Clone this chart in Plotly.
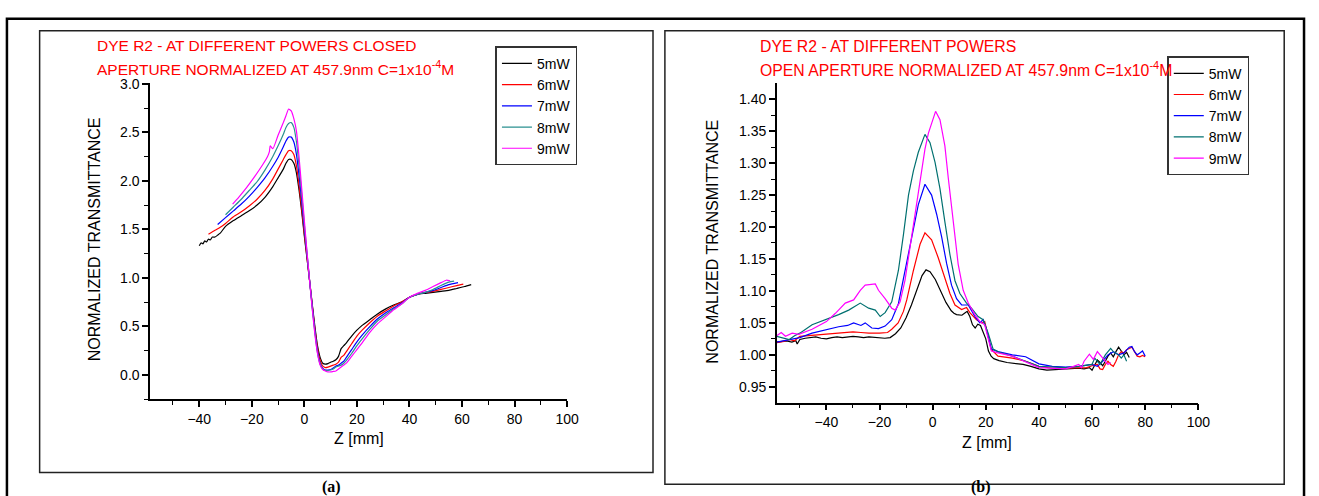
import plotly.graph_objects as go

W, H = 1319, 496
FONT = "Liberation Sans, Arial, sans-serif"

labels = ["5mW", "6mW", "7mW", "8mW", "9mW"]
colors = ["#000000", "#FF0000", "#0000FF", "#2A9090", "#FF00FF"]
colors_open = ["#000000", "#FF0000", "#0000FF", "#007070", "#FF00FF"]

# ---------------- (a) closed aperture ----------------
z_closed_5 = [-40, -39.3, -38.6, -37.9, -37.2, -36.5, -35.8, -35, -34, -33, -32, -30, -27, -24, -21, -18, -15, -12, -10, -8, -7, -6, -5, -4, -3, -2, -1, 0, 1, 2, 3, 4, 5, 6, 7, 8, 9, 10, 11, 12, 13, 14, 15, 16, 18, 20, 22, 25, 28, 31, 34, 37, 40, 43, 46, 49, 52, 55, 58, 61, 63.5]
t_closed_5 = [1.33, 1.36, 1.35, 1.38, 1.37, 1.40, 1.39, 1.42, 1.42, 1.44, 1.46, 1.53, 1.59, 1.64, 1.69, 1.75, 1.83, 1.94, 2.03, 2.12, 2.18, 2.22, 2.22, 2.18, 2.08, 1.90, 1.68, 1.43, 1.20, 0.97, 0.73, 0.50, 0.30, 0.18, 0.12, 0.11, 0.115, 0.13, 0.14, 0.155, 0.19, 0.27, 0.30, 0.33, 0.40, 0.46, 0.51, 0.57, 0.63, 0.68, 0.72, 0.75, 0.80, 0.83, 0.84, 0.85, 0.86, 0.87, 0.89, 0.91, 0.93]

z_closed_6 = [-36.5, -34, -32, -30, -27, -24, -21, -18, -15, -12, -10, -8, -7, -6, -5, -4, -3, -2, -1, 0, 1, 2, 3, 4, 5, 6, 7, 8, 9, 10, 11, 12, 13, 14, 15, 16, 18, 20, 22, 25, 28, 31, 34, 37, 40, 43, 46, 49, 52, 55, 58, 60.5]
t_closed_6 = [1.45, 1.49, 1.52, 1.56, 1.63, 1.68, 1.74, 1.81, 1.90, 2.02, 2.12, 2.22, 2.27, 2.31, 2.31, 2.27, 2.15, 1.95, 1.71, 1.45, 1.21, 0.97, 0.72, 0.48, 0.28, 0.15, 0.09, 0.075, 0.08, 0.09, 0.10, 0.11, 0.13, 0.18, 0.20, 0.24, 0.32, 0.40, 0.46, 0.54, 0.61, 0.66, 0.71, 0.75, 0.80, 0.83, 0.85, 0.86, 0.88, 0.90, 0.92, 0.935]

z_closed_7 = [-33, -30, -27, -24, -21, -18, -15, -12, -10, -8, -7, -6, -5, -4, -3, -2, -1, 0, 1, 2, 3, 4, 5, 6, 7, 8, 9, 10, 11, 12, 13, 14, 15, 16, 18, 20, 22, 25, 28, 31, 34, 37, 40, 43, 46, 49, 52, 55, 58.5]
t_closed_7 = [1.55, 1.62, 1.69, 1.76, 1.84, 1.93, 2.03, 2.15, 2.24, 2.35, 2.41, 2.45, 2.45, 2.40, 2.27, 2.05, 1.79, 1.50, 1.24, 0.97, 0.71, 0.46, 0.25, 0.12, 0.065, 0.05, 0.05, 0.055, 0.07, 0.09, 0.10, 0.12, 0.14, 0.18, 0.26, 0.34, 0.41, 0.50, 0.58, 0.64, 0.69, 0.74, 0.80, 0.83, 0.85, 0.87, 0.90, 0.93, 0.95]

z_closed_8 = [-30, -27, -24, -21, -18, -15, -12, -10, -8, -7, -6, -5, -4, -3, -2, -1, 0, 1, 2, 3, 4, 5, 6, 7, 8, 9, 10, 11, 12, 13, 14, 15, 16, 18, 20, 22, 25, 28, 31, 34, 37, 40, 43, 46, 49, 52, 55, 57]
t_closed_8 = [1.65, 1.73, 1.81, 1.90, 1.99, 2.11, 2.25, 2.36, 2.48, 2.55, 2.59, 2.60, 2.55, 2.40, 2.15, 1.86, 1.55, 1.26, 0.97, 0.69, 0.44, 0.23, 0.11, 0.06, 0.045, 0.045, 0.05, 0.06, 0.08, 0.09, 0.10, 0.12, 0.15, 0.22, 0.30, 0.37, 0.47, 0.56, 0.62, 0.68, 0.73, 0.80, 0.83, 0.85, 0.88, 0.92, 0.955, 0.965]

z_closed_9 = [-27.3, -25, -22, -19, -16, -14, -13.3, -13, -12, -10, -8, -7, -6, -5, -4, -3, -2, -1, 0, 1, 2, 3, 4, 5, 6, 7, 8, 9, 10, 11, 12, 13, 14, 15, 16, 18, 20, 22, 25, 28, 31, 34, 37, 40, 43, 46, 49, 52, 54, 55.5]
t_closed_9 = [1.76, 1.83, 1.93, 2.04, 2.16, 2.25, 2.30, 2.36, 2.33, 2.47, 2.60, 2.67, 2.74, 2.72, 2.64, 2.51, 2.24, 1.92, 1.59, 1.27, 0.97, 0.68, 0.42, 0.22, 0.10, 0.055, 0.04, 0.03, 0.03, 0.035, 0.04, 0.06, 0.08, 0.10, 0.12, 0.19, 0.26, 0.33, 0.44, 0.53, 0.60, 0.67, 0.73, 0.80, 0.84, 0.87, 0.91, 0.95, 0.975, 0.97]

# ---------------- (b) open aperture ----------------
z_open_5 = [-58.7, -57, -55, -53, -51.5, -51, -50, -48, -46, -44, -42, -40, -38, -36, -34, -32, -30, -28, -26, -24, -22, -20, -18, -16, -14, -12, -10, -8, -6, -4, -2.5, -1, 1, 3, 5, 7, 8, 9, 10, 11, 12, 13, 14, 15, 16, 17, 18, 19, 20, 21, 22, 23, 25, 28, 31, 34, 37, 40, 43, 46, 49, 52, 55, 57, 59, 60, 61, 62, 63, 64, 65, 66, 67, 68, 69, 70, 71, 72, 73, 74]
t_open_5 = [1.020, 1.021, 1.022, 1.020, 1.022, 1.017, 1.024, 1.026, 1.027, 1.028, 1.026, 1.025, 1.027, 1.028, 1.027, 1.028, 1.029, 1.028, 1.027, 1.028, 1.027, 1.027, 1.026, 1.027, 1.033, 1.042, 1.058, 1.078, 1.100, 1.124, 1.133, 1.130, 1.118, 1.100, 1.082, 1.069, 1.065, 1.063, 1.062, 1.062, 1.065, 1.068, 1.060, 1.047, 1.042, 1.048, 1.046, 1.036, 1.025, 1.006, 0.998, 0.994, 0.991, 0.988, 0.987, 0.985, 0.982, 0.978, 0.976, 0.977, 0.977, 0.978, 0.979, 0.978, 0.980, 0.976, 0.985, 0.992, 0.988, 0.983, 0.990, 0.998, 1.003, 0.997, 1.005, 1.012, 1.006, 1.000, 1.004, 0.996]

z_open_6 = [-58.7, -56, -54, -52, -50, -47, -44, -40, -37, -34, -30, -27, -24, -20, -17, -15.4, -13, -11, -9.75, -7.25, -4.75, -2.9, -0.4, 2.1, 4.6, 6.5, 8.4, 10.9, 12.75, 14, 16.5, 18.4, 19.6, 22, 24.6, 30, 35, 40, 45, 50, 55, 58, 60, 62, 63, 64, 65, 66, 67, 68, 69, 70, 71, 72, 73, 74, 75, 76, 77, 78, 79, 80]
t_open_6 = [1.019, 1.021, 1.024, 1.022, 1.029, 1.030, 1.031, 1.033, 1.033, 1.034, 1.036, 1.035, 1.034, 1.034, 1.035, 1.040, 1.050, 1.068, 1.086, 1.132, 1.173, 1.191, 1.180, 1.152, 1.122, 1.096, 1.078, 1.071, 1.074, 1.066, 1.055, 1.050, 1.052, 1.009, 0.998, 0.995, 0.990, 0.982, 0.979, 0.979, 0.980, 0.980, 0.983, 0.985, 0.978, 0.977, 0.985, 0.990, 0.985, 0.982, 0.990, 1.000, 1.005, 1.003, 1.008, 1.010, 1.012, 1.005, 0.998, 0.997, 0.999, 0.997]

z_open_7 = [-58.7, -56, -53, -50, -45.4, -40, -35.4, -32, -29.75, -27, -25.4, -22.9, -20.4, -17.9, -15.4, -12.9, -10.4, -7.9, -5.4, -2.9, -0.4, 1.5, 3.4, 5.25, 7.1, 9, 10.9, 13.4, 15.9, 17.75, 19, 20.25, 22.1, 24.6, 30, 35, 40, 45, 50, 55, 60, 62, 64, 66, 68, 70, 72, 74, 75, 76, 77, 78, 79, 80]
t_open_7 = [1.020, 1.022, 1.024, 1.027, 1.034, 1.040, 1.044, 1.046, 1.050, 1.046, 1.050, 1.042, 1.041, 1.045, 1.055, 1.080, 1.132, 1.188, 1.235, 1.267, 1.250, 1.220, 1.184, 1.143, 1.109, 1.088, 1.078, 1.078, 1.060, 1.050, 1.055, 1.040, 1.009, 1.005, 1.000, 0.997, 0.986, 0.982, 0.981, 0.982, 0.985, 0.982, 0.990, 1.000, 1.005, 1.000, 1.003, 1.012, 1.013, 1.005, 1.000, 1.003, 1.006, 0.998]

z_open_8 = [-58.7, -56, -54, -52, -50, -45.4, -40, -35.4, -31.6, -27.25, -24.1, -21.6, -19.75, -17.9, -15.4, -12.9, -11, -9.1, -7.25, -5.4, -2.9, -1, 0.9, 2.75, 4.6, 6.5, 8.4, 10.25, 12.75, 14.6, 17.1, 19, 20.9, 22.75, 25, 30, 40, 50, 55, 60, 61, 62, 63, 65, 67, 68, 70, 71, 72, 73]
t_open_8 = [1.029, 1.026, 1.024, 1.030, 1.034, 1.047, 1.055, 1.063, 1.070, 1.081, 1.073, 1.070, 1.060, 1.066, 1.083, 1.132, 1.188, 1.250, 1.288, 1.317, 1.345, 1.332, 1.301, 1.260, 1.208, 1.157, 1.116, 1.096, 1.081, 1.073, 1.060, 1.055, 1.034, 1.009, 1.004, 0.998, 0.982, 0.980, 0.982, 0.985, 0.995, 0.990, 0.985, 1.000, 1.010, 1.005, 1.000, 0.995, 1.000, 0.990]

z_open_9 = [-59, -57, -55.4, -52.9, -50.4, -45.4, -40, -36.6, -32.9, -29.75, -27.25, -25.4, -21.6, -20.4, -17.9, -15.4, -14.1, -12.25, -10.4, -8.5, -6.6, -4.75, -2.9, -1.6, 0.25, 1.1, 2.75, 4.6, 5.9, 7.75, 9.6, 11.5, 13.4, 15.9, 17.75, 19.6, 22.1, 24.6, 30, 40, 50, 53, 55, 56, 57, 59, 60.5, 62, 63, 64, 65, 66, 67]
t_open_9 = [1.029, 1.035, 1.029, 1.034, 1.032, 1.040, 1.052, 1.065, 1.081, 1.086, 1.101, 1.109, 1.111, 1.101, 1.088, 1.073, 1.070, 1.083, 1.117, 1.168, 1.219, 1.271, 1.322, 1.347, 1.373, 1.381, 1.368, 1.327, 1.276, 1.209, 1.142, 1.101, 1.081, 1.063, 1.052, 1.047, 1.006, 1.003, 0.998, 0.980, 0.978, 0.982, 0.985, 0.980, 0.990, 1.001, 0.993, 1.005, 1.000, 0.995, 0.990, 0.985, 0.988]

closed_z = [z_closed_5, z_closed_6, z_closed_7, z_closed_8, z_closed_9]
closed_t = [t_closed_5, t_closed_6, t_closed_7, t_closed_8, t_closed_9]
open_z = [z_open_5, z_open_6, z_open_7, z_open_8, z_open_9]
open_t = [t_open_5, t_open_6, t_open_7, t_open_8, t_open_9]

x_ticks = [-40, -20, 0, 20, 40, 60, 80, 100]


def px(x):
    return x / W


def py(y):
    return 1 - y / H


fig = go.Figure()
for i in range(5):
    fig.add_trace(go.Scatter(x=closed_z[i], y=closed_t[i], mode="lines", name=labels[i],
                             line=dict(color=colors[i], width=1.2, shape="spline", smoothing=0.5),
                             xaxis="x", yaxis="y", legend="legend"))
for i in range(5):
    fig.add_trace(go.Scatter(x=open_z[i], y=open_t[i], mode="lines", name=labels[i],
                             line=dict(color=colors_open[i], width=1.2),
                             xaxis="x2", yaxis="y2", legend="legend2"))

axis_common = dict(showline=True, linecolor="black", linewidth=1.5, ticks="outside",
                   ticklen=6, tickwidth=1.5, tickcolor="black", showgrid=False, zeroline=False,
                   tickfont=dict(family=FONT, size=14, color="black"))

fig.update_layout(
    width=W, height=H, margin=dict(l=0, r=0, t=0, b=0),
    paper_bgcolor="white", plot_bgcolor="white",
    font=dict(family=FONT, color="black"),
    xaxis=dict(domain=[px(151.5), px(572.3)], range=[-58.7, 100], tickvals=x_ticks,
               minor=dict(dtick=10, tick0=0, ticks="outside", ticklen=4, tickwidth=1.2, tickcolor="black"),
               anchor="y", **axis_common),
    yaxis=dict(domain=[py(397.7), py(76.7)], range=[-0.252, 3.003], dtick=0.5, tick0=0, tickformat=".1f",
               minor=dict(dtick=0.25, tick0=0, ticks="outside", ticklen=4, tickwidth=1.2, tickcolor="black"),
               anchor="x", **axis_common),
    xaxis2=dict(domain=[px(784), px(1209.3)], range=[-58.65, 100], tickvals=x_ticks,
                minor=dict(dtick=10, tick0=0, ticks="outside", ticklen=4, tickwidth=1.2, tickcolor="black"),
                anchor="y2", **axis_common),
    yaxis2=dict(domain=[py(401), py(76.7)], range=[0.9254, 1.4246], dtick=0.05, tick0=0.95, tickformat=".2f",
                minor=dict(dtick=0.025, tick0=0.95, ticks="outside", ticklen=4, tickwidth=1.2, tickcolor="black"),
                anchor="x2", **axis_common),
    legend=dict(x=px(500), y=py(39), xanchor="left", yanchor="top", bgcolor="white",
                bordercolor="#333333", borderwidth=1.5, font=dict(family=FONT, size=14),
                tracegroupgap=0, itemwidth=30),
    legend2=dict(x=px(1178), y=py(49), xanchor="left", yanchor="top", bgcolor="white",
                 bordercolor="#333333", borderwidth=1.5, font=dict(family=FONT, size=14),
                 tracegroupgap=0, itemwidth=30),
    showlegend=True,
)

shapes = [
    dict(type="rect", xref="paper", yref="paper", x0=px(7), x1=px(1316), y0=py(520), y1=py(11),
         line=dict(color="black", width=2.5), layer="below"),
    dict(type="rect", xref="paper", yref="paper", x0=px(40), x1=px(659), y0=py(472), y1=py(23),
         line=dict(color="#222222", width=1.5), layer="below"),
    dict(type="rect", xref="paper", yref="paper", x0=px(671), x1=px(1296), y0=py(484), y1=py(23),
         line=dict(color="#222222", width=1.5), layer="below"),
]
fig.update_layout(shapes=shapes)

red = dict(family=FONT, size=15.5, color="#FF0000")
red2 = dict(family=FONT, size=15.8, color="#FF0000")
lab = dict(family=FONT, size=16, color="black")
ann = [
    dict(text="DYE R2 - AT DIFFERENT POWERS CLOSED", x=px(96), y=py(38), xanchor="left", yanchor="middle", font=red),
    dict(text="APERTURE NORMALIZED AT 457.9nm C=1x10<sup>-4</sup>M", x=px(96), y=py(61), xanchor="left", yanchor="middle", font=red),
    dict(text="DYE R2 - AT DIFFERENT POWERS", x=px(765), y=py(39), xanchor="left", yanchor="middle", font=red2),
    dict(text="OPEN APERTURE NORMALIZED AT 457.9nm C=1x10<sup>-4</sup>M", x=px(765), y=py(62), xanchor="left", yanchor="middle", font=red2),
    dict(text="NORMALIZED TRANSMITTANCE", x=px(95), y=py(235), textangle=-90, xanchor="center", yanchor="middle", font=lab),
    dict(text="NORMALIZED TRANSMITTANCE", x=px(719), y=py(237), textangle=-90, xanchor="center", yanchor="middle", font=lab),
    dict(text="Z [mm]", x=px(362), y=py(438), xanchor="center", yanchor="middle", font=lab),
    dict(text="Z [mm]", x=px(996), y=py(442), xanchor="center", yanchor="middle", font=lab),
    dict(text="<b>(a)</b>", x=px(335), y=py(487), xanchor="center", yanchor="middle",
         font=dict(family="Liberation Serif, Times New Roman, serif", size=16, color="black")),
    dict(text="<b>(b)</b>", x=px(990), y=py(487), xanchor="center", yanchor="middle",
         font=dict(family="Liberation Serif, Times New Roman, serif", size=16, color="black")),
]
for a in ann:
    a.update(xref="paper", yref="paper", showarrow=False)
fig.update_layout(annotations=ann)

fig.write_html("out.html", config={"displayModeBar": False},
               post_script="document.body.style.margin='0';document.body.style.padding='0';document.body.style.overflow='hidden';")
